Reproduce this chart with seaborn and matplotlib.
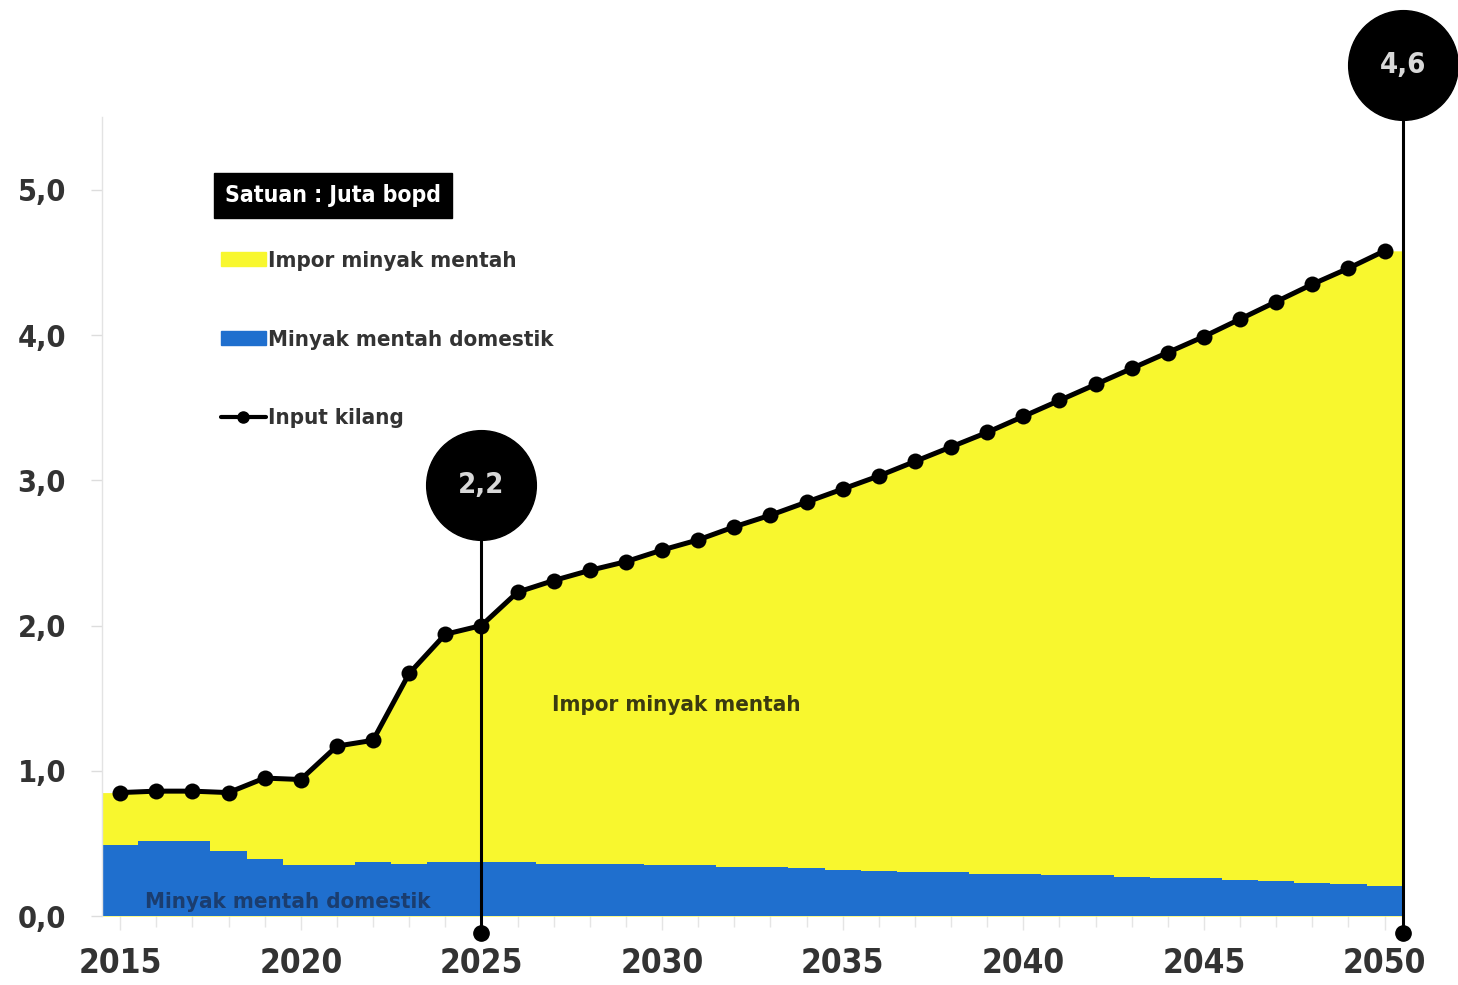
import numpy as np
import pandas as pd
import matplotlib
matplotlib.use("Agg")
import matplotlib.pyplot as plt
from matplotlib.patches import Patch
from matplotlib.lines import Line2D
from matplotlib.ticker import FixedLocator, MultipleLocator
import seaborn as sns

# Data (juta bopd)
years = list(range(2015, 2051))
input_kilang = [0.85, 0.86, 0.86, 0.85, 0.95, 0.94, 1.17, 1.21, 1.67, 1.94,
                2.00, 2.23, 2.31, 2.38, 2.44, 2.52, 2.59, 2.68, 2.76, 2.85,
                2.94, 3.03, 3.13, 3.23, 3.33, 3.44, 3.55, 3.66, 3.77, 3.88,
                3.99, 4.11, 4.23, 4.35, 4.46, 4.58]
domestik = [0.49, 0.52, 0.52, 0.45, 0.39, 0.35, 0.35, 0.37, 0.36, 0.37,
            0.37, 0.37, 0.36, 0.36, 0.36, 0.35, 0.35, 0.34, 0.34, 0.33,
            0.32, 0.31, 0.30, 0.30, 0.29, 0.29, 0.28, 0.28, 0.27, 0.26,
            0.26, 0.25, 0.24, 0.23, 0.22, 0.21]
y_ticks = [0, 1, 2, 3, 4, 5]
x_ticks = [2015, 2020, 2025, 2030, 2035, 2040, 2045, 2050]
callouts = {2025: "2,2", 2050: "4,6"}

df = pd.DataFrame({"tahun": years, "input": input_kilang, "domestik": domestik})
df["impor"] = df["input"] - df["domestik"]

YELLOW = "#f8f72e"
BLUE = "#1f6fce"
TEXT = "#333333"

sns.set_theme(style="white")
plt.rcParams["font.family"] = ["Liberation Sans Narrow", "DejaVu Sans"]
plt.rcParams["font.weight"] = "bold"
plt.rcParams["font.stretch"] = "condensed"

fig = plt.figure(figsize=(14.58, 9.85), dpi=100)
ax = fig.add_axes([0.070, 0.070, 0.897, 0.811])

# areas reach half a year beyond first/last point
x_ext = np.r_[df["tahun"].iloc[0] - 0.5, df["tahun"], df["tahun"].iloc[-1] + 0.5]
top_ext = np.r_[df["input"].iloc[0], df["input"], df["input"].iloc[-1]]
dom_ext = np.r_[df["domestik"].iloc[0], df["domestik"], df["domestik"].iloc[-1]]
ax.fill_between(x_ext, 0, top_ext, color=YELLOW, lw=0, zorder=1)
ax.fill_between(x_ext, 0, dom_ext, step="mid", color=BLUE, lw=0, zorder=2)

sns.lineplot(data=df, x="tahun", y="input", ax=ax, color="black", lw=3.6,
             marker="o", markersize=11.5, markeredgewidth=0, zorder=4)

# callout bubbles
for i, (yr, label) in enumerate(callouts.items()):
    xv = yr if i == 0 else yr + 0.5
    yb = 2.97 if i == 0 else 5.86
    ax.plot([xv, xv], [-0.12, yb], color="black", lw=2.2, clip_on=False, zorder=5)
    ax.plot([xv], [-0.12], "o", color="black", ms=11, clip_on=False, zorder=5)
    ax.plot([xv], [yb], "o", color="black", ms=79, clip_on=False, zorder=6)
    ax.text(xv, yb, label, color="#d8d8d8", ha="center", va="center",
            fontsize=21, fontweight="bold", zorder=7, clip_on=False)

# labels inside areas
ax.text(2030.4, 1.45, "Impor minyak mentah", color="#3a3a10", fontsize=16,
        fontweight="bold", ha="center", va="center", zorder=3)
ax.text(2015.7, 0.10, "Minyak mentah domestik", color="#1b3d6e", fontsize=16,
        fontweight="bold", ha="left", va="center", zorder=3)

# unit box and legend
ax.text(0.094, 0.902, "Satuan : Juta bopd", transform=ax.transAxes, color="white",
        fontsize=16.5, fontweight="bold", ha="left", va="center",
        bbox=dict(boxstyle="square,pad=0.5", fc="black", ec="black"))
handles = [Patch(color=YELLOW, label="Impor minyak mentah"),
           Patch(color=BLUE, label="Minyak mentah domestik"),
           Line2D([], [], color="black", lw=3, marker="o", ms=8, label="Input kilang")]
leg = ax.legend(handles=handles, loc="upper left", bbox_to_anchor=(0.091, 0.833),
                frameon=False, fontsize=16, handlelength=2.0, handleheight=0.6,
                handletextpad=0.1, labelspacing=2.65, borderaxespad=0, borderpad=0)
for t in leg.get_texts():
    t.set_color(TEXT)

ax.set_xlim(2014.5, 2050.7)
ax.set_ylim(0, 5.5)
ax.set_xlabel("")
ax.set_ylabel("")
ax.yaxis.set_major_locator(FixedLocator(y_ticks))
ax.set_yticklabels([f"{v:.1f}".replace(".", ",") for v in y_ticks])
ax.xaxis.set_major_locator(FixedLocator(x_ticks))
ax.xaxis.set_minor_locator(MultipleLocator(1))
ax.set_xticklabels([str(v) for v in x_ticks])
ax.tick_params(axis="y", which="major", left=True, length=8, width=1,
               color="#dddddd", labelsize=22, labelcolor=TEXT, pad=18)
ax.tick_params(axis="x", which="major", bottom=True, length=10, width=1,
               color="#e5e5e5", labelsize=24, labelcolor=TEXT, pad=12)
ax.tick_params(axis="x", which="minor", bottom=True, length=8, width=1,
               color="#e5e5e5")
for lab in ax.get_xticklabels() + ax.get_yticklabels():
    lab.set_fontweight("bold")
for s in ["top", "right", "bottom"]:
    ax.spines[s].set_visible(False)
ax.spines["left"].set_color("#e3e3e3")
ax.spines["left"].set_linewidth(1)

fig.savefig("out.png", dpi=100)
